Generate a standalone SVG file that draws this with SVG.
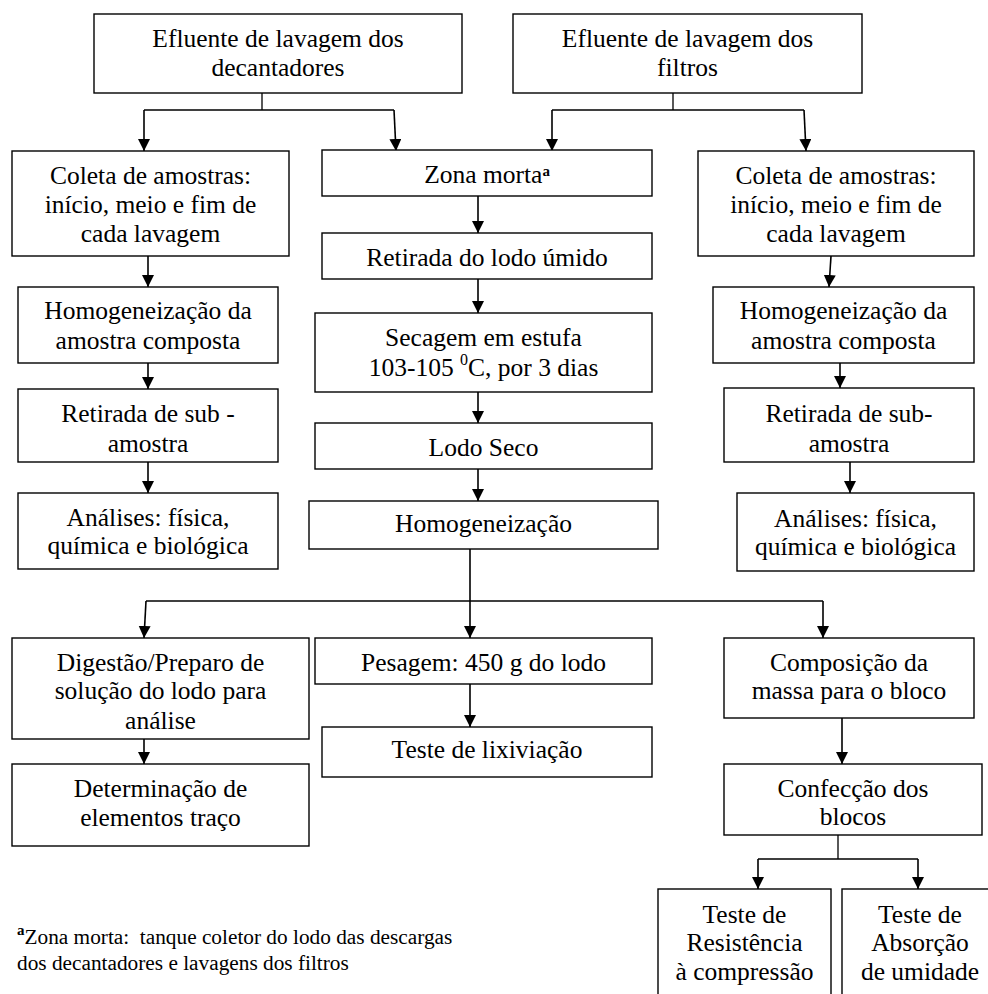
<svg xmlns="http://www.w3.org/2000/svg" width="988" height="994" viewBox="0 0 988 994" font-family="Liberation Serif, serif">
<style>
  .box { fill: #fff; stroke: #000; stroke-width: 1.4; }
  .t { font-size: 25.5px; fill: #000; text-anchor: middle; }
  .fn { font-size: 21.3px; fill: #000; }
  .sup { font-weight: bold; font-size: 15px; }
  .ln { fill: none; stroke: #000; stroke-width: 1.3; }
  .ar { fill: none; stroke: #000; stroke-width: 1.6; marker-end: url(#ah); }
</style>
<defs>
  <marker id="ah" markerUnits="userSpaceOnUse" markerWidth="13" markerHeight="13" refX="12" refY="6" orient="auto">
    <path d="M0,0 L12,6 L0,12 z" fill="#000"/>
  </marker>
</defs>
<rect width="988" height="994" fill="#fff"/>

<g id="connectors">
  <path class="ln" d="M262,93 V110 M144,110 H394"/>
  <path class="ar" d="M144,110 V151"/>
  <path class="ar" d="M394,110 L396,151"/>
  <path class="ln" d="M673,93 V110 M552,110 H804"/>
  <path class="ar" d="M552,110 V151"/>
  <path class="ar" d="M804,110 L806,151"/>
  <path class="ar" d="M148,256 V287"/>
  <path class="ar" d="M148,363 V389"/>
  <path class="ar" d="M148,462 V493"/>
  <path class="ar" d="M478,196 V233"/>
  <path class="ar" d="M478,279 V313"/>
  <path class="ar" d="M478,392 V423"/>
  <path class="ar" d="M478,469 V501"/>
  <path class="ar" d="M831,256 L829,287"/>
  <path class="ar" d="M840,363 V388"/>
  <path class="ar" d="M850,462 V493"/>
  <path class="ln" d="M146,601 H823"/>
  <path class="ar" d="M470,549 V638"/>
  <path class="ar" d="M146,601 L144,638"/>
  <path class="ar" d="M823,601 V638"/>
  <path class="ar" d="M144,739 V764"/>
  <path class="ar" d="M470,684 V727"/>
  <path class="ar" d="M842,718 V764"/>
  <path class="ln" d="M838,835 V859 M758,859 H918"/>
  <path class="ar" d="M758,859 V889"/>
  <path class="ar" d="M918,859 V889"/>
</g>

<g id="n1"><rect class="box" x="94" y="14" width="368" height="79"/>
  <text class="t" x="278" y="47">Efluente de lavagem dos</text><text class="t" x="278" y="76">decantadores</text></g>
<g id="n2"><rect class="box" x="513" y="14" width="349" height="79"/>
  <text class="t" x="687.5" y="47">Efluente de lavagem dos</text><text class="t" x="687.5" y="76">filtros</text></g>
<g id="n3"><rect class="box" x="12" y="151" width="277" height="105"/>
  <text class="t" x="150.5" y="184">Coleta de amostras:</text><text class="t" x="150.5" y="213">início, meio e fim de</text><text class="t" x="150.5" y="242">cada lavagem</text></g>
<g id="n4"><rect class="box" x="322" y="150" width="330" height="46"/>
  <text class="t" x="487" y="183">Zona morta<tspan class="sup" dy="-7">a</tspan></text></g>
<g id="n5"><rect class="box" x="698" y="151" width="276" height="105"/>
  <text class="t" x="836" y="184">Coleta de amostras:</text><text class="t" x="836" y="213">início, meio e fim de</text><text class="t" x="836" y="242">cada lavagem</text></g>
<g id="n6"><rect class="box" x="18" y="287" width="260" height="76"/>
  <text class="t" x="148" y="319">Homogeneização da</text><text class="t" x="148" y="349">amostra composta</text></g>
<g id="n7"><rect class="box" x="322" y="233" width="330" height="46"/>
  <text class="t" x="487" y="266">Retirada do lodo úmido</text></g>
<g id="n8"><rect class="box" x="713" y="287" width="261" height="76"/>
  <text class="t" x="843.5" y="319">Homogeneização da</text><text class="t" x="843.5" y="349">amostra composta</text></g>
<g id="n9"><rect class="box" x="315" y="313" width="337" height="79"/>
  <text class="t" x="483.5" y="346">Secagem em estufa</text><text class="t" x="483.5" y="376">103-105 <tspan font-size="16" dy="-11">0</tspan><tspan dy="11">C, por 3 dias</tspan></text></g>
<g id="n10"><rect class="box" x="18" y="389" width="260" height="73"/>
  <text class="t" x="148" y="422">Retirada de sub -</text><text class="t" x="148" y="452">amostra</text></g>
<g id="n11"><rect class="box" x="724" y="388" width="250" height="74"/>
  <text class="t" x="849" y="422">Retirada de sub-</text><text class="t" x="849" y="452">amostra</text></g>
<g id="n12"><rect class="box" x="315" y="423" width="337" height="46"/>
  <text class="t" x="483.5" y="456">Lodo Seco</text></g>
<g id="n13"><rect class="box" x="309" y="501" width="349" height="48"/>
  <text class="t" x="483.5" y="532">Homogeneização</text></g>
<g id="n14"><rect class="box" x="18" y="493" width="260" height="76"/>
  <text class="t" x="148" y="526">Análises: física,</text><text class="t" x="148" y="554">química e biológica</text></g>
<g id="n15"><rect class="box" x="737" y="493" width="237" height="78"/>
  <text class="t" x="855.5" y="527">Análises: física,</text><text class="t" x="855.5" y="555">química e biológica</text></g>
<g id="n16"><rect class="box" x="12" y="638" width="297" height="101"/>
  <text class="t" x="160.5" y="671">Digestão/Preparo de</text><text class="t" x="160.5" y="699">solução do lodo para</text><text class="t" x="160.5" y="729">análise</text></g>
<g id="n17"><rect class="box" x="315" y="638" width="337" height="46"/>
  <text class="t" x="483.5" y="671">Pesagem: 450 g do lodo</text></g>
<g id="n18"><rect class="box" x="724" y="638" width="250" height="80"/>
  <text class="t" x="849" y="671">Composição da</text><text class="t" x="849" y="699">massa para o bloco</text></g>
<g id="n19"><rect class="box" x="322" y="727" width="330" height="50"/>
  <text class="t" x="487" y="758">Teste de lixiviação</text></g>
<g id="n20"><rect class="box" x="12" y="764" width="297" height="82"/>
  <text class="t" x="160.5" y="797">Determinação de</text><text class="t" x="160.5" y="826">elementos traço</text></g>
<g id="n21"><rect class="box" x="724" y="764" width="258" height="71"/>
  <text class="t" x="853" y="797">Confecção dos</text><text class="t" x="853" y="825">blocos</text></g>
<g id="n22"><rect class="box" x="658" y="889" width="173" height="120"/>
  <text class="t" x="744.5" y="923">Teste de</text><text class="t" x="744.5" y="951">Resistência</text><text class="t" x="744.5" y="980">à compressão</text></g>
<g id="n23"><rect class="box" x="842" y="889" width="160" height="120"/>
  <text class="t" x="920" y="923">Teste de</text><text class="t" x="920" y="951">Absorção</text><text class="t" x="920" y="980">de umidade</text></g>

<g id="footnote">
  <text class="fn" x="17" y="944" xml:space="preserve"><tspan class="sup" dy="-9">a</tspan><tspan dy="9">Zona morta:  tanque coletor do lodo das descargas</tspan></text>
  <text class="fn" x="17" y="970">dos decantadores e lavagens dos filtros</text>
</g>
</svg>
